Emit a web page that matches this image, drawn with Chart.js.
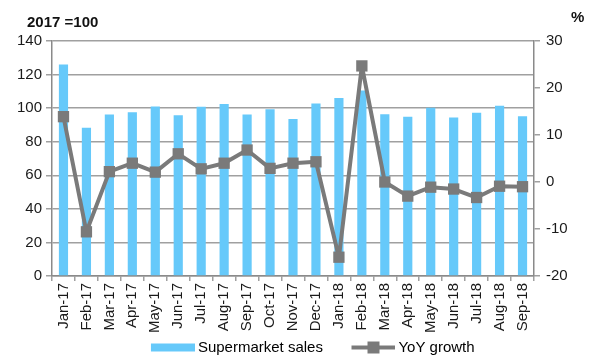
<!DOCTYPE html>
<html>
<head>
<meta charset="utf-8">
<script src="https://cdn.jsdelivr.net/npm/chart.js@4/dist/chart.umd.min.js"></script>
<style>
  html, body { margin: 0; padding: 0; background: #fff; }
  #wrap { width: 599px; height: 360px; }
</style>
</head>
<body>
<div id="wrap"><canvas id="chart" width="599" height="360"></canvas></div>
<script>
const months = ['Jan-17', 'Feb-17', 'Mar-17', 'Apr-17', 'May-17', 'Jun-17', 'Jul-17', 'Aug-17', 'Sep-17', 'Oct-17', 'Nov-17', 'Dec-17',
  'Jan-18', 'Feb-18', 'Mar-18', 'Apr-18', 'May-18', 'Jun-18', 'Jul-18', 'Aug-18', 'Sep-18'];
const sales = [126, 88.3, 96.2, 97.6, 101, 95.8, 100.8, 102.4, 96.2, 99.4, 93.5, 102.8,
  106, 110.5, 96.4, 94.8, 100.2, 94.4, 97.2, 101.4, 95.2];
const yoy = [13.9, -10.6, 2.2, 4.0, 2.1, 6.0, 2.8, 4.0, 6.8, 2.9, 4.0, 4.3,
  -16.0, 24.7, 0, -3.0, -1.1, -1.5, -3.3, -0.9, -1.0];

const BLUE = '#66c9fa', GREY = '#7a7a7a', GRID = '#a0a0a0';
const FONT = 'Liberation Sans, Arial, sans-serif';
Chart.defaults.font.family = FONT;
Chart.defaults.font.size = 15;
Chart.defaults.color = '#1a1a1a';

// legend swatches: 69px wide, drawing in the right 44px
function swatch(kind) {
  const c = document.createElement('canvas');
  c.width = 69; c.height = 14;
  const g = c.getContext('2d');
  if (kind === 'bar') {
    g.fillStyle = BLUE;
    g.fillRect(25, 3, 44, 8);
  } else {
    g.strokeStyle = GREY; g.lineWidth = 4;
    g.beginPath(); g.moveTo(25, 7); g.lineTo(69, 7); g.stroke();
    g.fillStyle = GREY;
    g.fillRect(41, 1, 12, 12);
  }
  return c;
}
const swatches = [swatch('bar'), swatch('line')];

const headings = {
  id: 'headings',
  afterDraw(c) {
    const ctx = c.ctx;
    ctx.save();
    ctx.fillStyle = '#111';
    ctx.textBaseline = 'alphabetic';
    ctx.textAlign = 'left';
    ctx.font = 'bold 15px ' + FONT;
    ctx.fillText('2017 =100', 27, 27);
    ctx.fillText('%', 571, 22);
    ctx.restore();
  }
};

new Chart(document.getElementById('chart'), {
  data: {
    labels: months,
    datasets: [
      { type: 'bar', label: 'Supermarket sales', data: sales, backgroundColor: BLUE, yAxisID: 'y',
        barPercentage: 0.4, categoryPercentage: 1, order: 1 },
      { type: 'line', label: 'YoY growth', data: yoy, yAxisID: 'y1', borderColor: GREY, borderWidth: 4,
        borderJoinStyle: 'round',
        pointStyle: 'rect', pointRadius: 8, pointBackgroundColor: GREY, pointBorderColor: GREY, pointBorderWidth: 0,
        tension: 0, order: 0 }
    ]
  },
  options: {
    responsive: false,
    animation: false,
    layout: { padding: { top: 41, left: 6, right: 0, bottom: -5 } },
    plugins: {
      tooltip: { enabled: false },
      legend: {
        position: 'bottom',
        labels: {
          usePointStyle: true,
          pointStyleWidth: 60,
          padding: 8,
          font: { size: 15 },
          color: '#111',
          generateLabels: ch => ch.data.datasets.map((d, i) => ({
            text: d.label, pointStyle: swatches[i], datasetIndex: i,
            fillStyle: 'transparent', strokeStyle: 'transparent', lineWidth: 0
          }))
        }
      }
    },
    scales: {
      x: {
        grid: { offset: true, drawOnChartArea: false, tickLength: 5, color: GRID, lineWidth: 1.5 },
        border: { color: '#8a8a8a', width: 1.5 },
        ticks: { minRotation: 90, maxRotation: 90, autoSkip: false, padding: 2, font: { size: 15 } },
        afterFit: s => { s.height = 56; }
      },
      y: {
        position: 'left', min: 0, max: 140,
        grid: { color: GRID, lineWidth: 1.5, tickLength: 6 },
        border: { color: '#8a8a8a', width: 1.5 },
        ticks: { stepSize: 20, padding: 4, font: { size: 15 } },
        afterFit: s => { s.width = 46; }
      },
      y1: {
        position: 'right', min: -20, max: 30,
        grid: { drawOnChartArea: false, color: GRID, lineWidth: 1.5, tickLength: 6 },
        border: { color: '#8a8a8a', width: 1.5 },
        ticks: { stepSize: 10, padding: 6, font: { size: 15 } },
        afterFit: s => { s.width = 65; }
      }
    }
  },
  plugins: [headings]
});
</script>
</body>
</html>
